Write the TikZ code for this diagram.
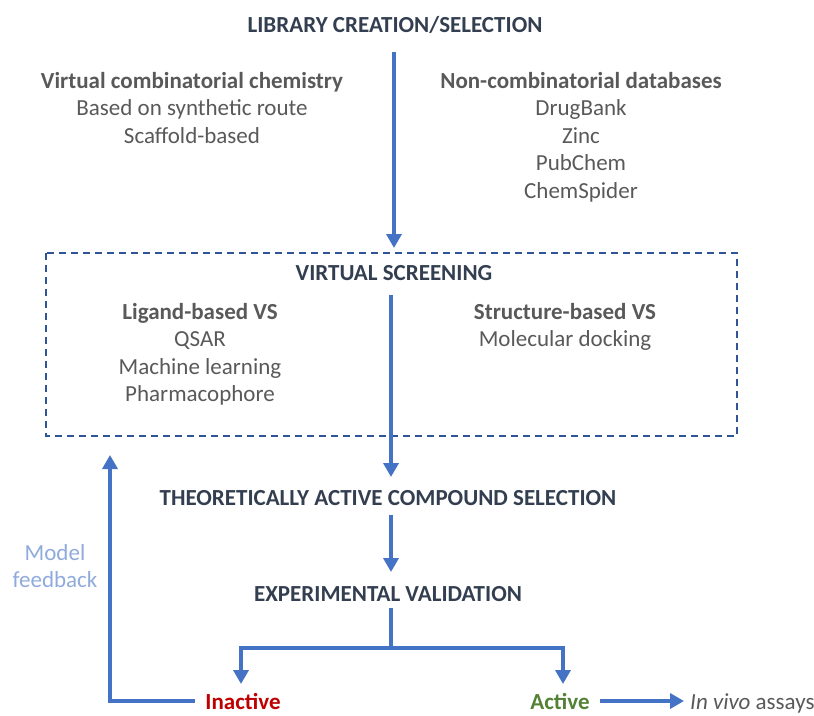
\documentclass[tikz,border=0pt]{standalone}
\usepackage{fontspec}
\setmainfont{Carlito}
\usetikzlibrary{positioning,arrows.meta}

\definecolor{flowblue}{HTML}{4472C4}
\definecolor{boxblue}{HTML}{2F5597}
\definecolor{headgray}{HTML}{333F50}
\definecolor{bodygray}{HTML}{595959}
\definecolor{fbblue}{HTML}{8FAADC}
\definecolor{inred}{HTML}{C00000}
\definecolor{actgreen}{HTML}{538135}

\begin{document}
\begin{tikzpicture}[x=1pt,y=-1pt,
	font=\fontsize{23}{27.5}\selectfont,
	head/.style={text=headgray,font=\fontsize{23}{27.5}\selectfont\bfseries,inner sep=0pt},
	body/.style={text=bodygray,align=center,inner sep=0pt},
	flow/.style={draw=flowblue,line width=4pt,-{Triangle[width=15pt,length=14pt]}},
	]
	\useasboundingbox (0,0) rectangle (814,715);
	% stages
	\node [head] (lib) at (395,25) {LIBRARY CREATION/SELECTION};
	\node [body,anchor=north] (comb) at (192,72) {\textbf{Virtual combinatorial chemistry}\\Based on synthetic route\\Scaffold-based};
	\node [body,anchor=north] (db) at (581,72) {\textbf{Non-combinatorial databases}\\DrugBank\\Zinc\\PubChem\\ChemSpider};
	\draw [draw=boxblue,line width=1.6pt,dash pattern=on 7pt off 5pt] (46,253) rectangle (737,436);
	\node [head] (vs) at (394,273) {VIRTUAL SCREENING};
	\node [body,anchor=north] (lig) at (200,303) {\textbf{Ligand-based VS}\\QSAR\\Machine learning\\Pharmacophore};
	\node [body,anchor=north] (str) at (565,303) {\textbf{Structure-based VS}\\Molecular docking};
	\node [head] (tac) at (388,498) {THEORETICALLY ACTIVE COMPOUND SELECTION};
	\node [head] (exp) at (388,594) {EXPERIMENTAL VALIDATION};
	\node [head,text=inred,anchor=base] (ina) at (243,709) {Inactive};
	\node [head,text=actgreen,anchor=base] (act) at (560,709) {Active};
	\node [body,anchor=base west] (viv) at (690,709) {\textit{In vivo} assays};
	\node [body,text=fbblue] (fb) at (55,566) {Model\\feedback};
	% connectors
	\coordinate (top) at (394,52);
	\coordinate (boxtop) at (394,248);
	\coordinate (vsbot) at (391,295);
	\coordinate (vsout) at (391,477);
	\coordinate (fork) at (391,648);
	\coordinate (fbtop) at (110,455);
	\draw [flow] (top) -- (boxtop);
	\draw [flow] (vsbot) -- (vsout);
	\draw [flow] (391,515) -- (391,572);
	\draw [flow] (391,608) -- (fork) -| (241,684);
	\draw [flow] (fork) -| (563,684);
	\draw [flow] ([xshift=-10pt]ina.west) -| (fbtop);
	\draw [flow] ([xshift=10pt]act.east) -- ([xshift=-6pt]viv.west |- act.east);
\end{tikzpicture}
\end{document}
